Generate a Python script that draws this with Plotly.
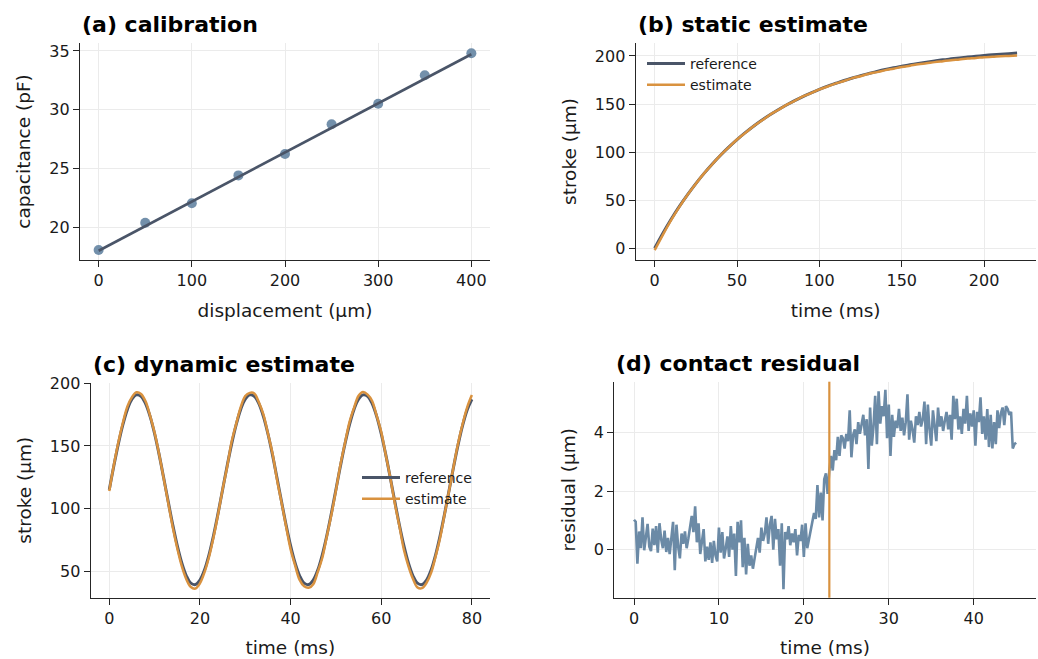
import numpy as np
import plotly.graph_objects as go

# ---------------- data ----------------
# (a) calibration
cal_disp = [0, 50, 100, 150, 200, 250, 300, 350, 400]
cal_cap = [18.04, 20.37, 22.02, 24.40, 26.22, 28.75, 30.51, 32.93, 34.80]
fit_disp = [0, 400]
fit_cap = [17.98, 34.72]

# (b) static estimate (every 5 ms)
static_t = list(range(0, 225, 5))
static_ref = [0.0, 15.6, 30.1, 43.5, 55.8, 67.3, 77.9, 87.7, 96.8, 105.2,
              113.0, 120.2, 126.9, 133.1, 138.8, 144.1, 149.0, 153.6, 157.8, 161.6,
              165.2, 168.6, 171.6, 174.5, 177.1, 179.6, 181.8, 183.9, 185.9, 187.7,
              189.3, 190.9, 192.3, 193.6, 194.8, 196.0, 197.0, 198.0, 198.9, 199.7,
              200.5, 201.2, 201.8, 202.4, 203.0]
static_est = [-2.0, 14.0, 29.2, 43.0, 55.6, 67.0, 77.9, 87.4, 96.9, 105.0,
              113.1, 120.0, 127.0, 132.8, 138.9, 143.8, 149.1, 153.3, 157.9, 161.3,
              165.3, 168.2, 171.5, 174.0, 177.0, 179.0, 181.5, 183.2, 185.3, 186.8,
              188.6, 189.9, 191.3, 192.4, 193.6, 194.6, 195.6, 196.4, 197.3, 197.9,
              198.8, 199.2, 199.7, 200.0, 200.4]

# (c) dynamic estimate (every 1 ms)
dyn_t = list(range(0, 81))
dyn_ref = [115.0, 133.9, 151.6, 167.0, 179.2, 187.3, 190.8, 189.7, 183.8, 173.6,
           159.7, 143.0, 124.5, 105.5, 87.0, 70.3, 56.4, 46.2, 40.3, 39.2,
           42.7, 50.8, 63.0, 78.4, 96.1,
           115.0, 133.9, 151.6, 167.0, 179.2, 187.3, 190.8, 189.7, 183.8, 173.6,
           159.7, 143.0, 124.5, 105.5, 87.0, 70.3, 56.4, 46.2, 40.3, 39.2,
           42.7, 50.8, 63.0, 78.4, 96.1,
           115.0, 133.9, 151.6, 167.0, 179.2, 187.3, 190.8, 189.7, 183.8, 173.6,
           159.7, 143.0, 124.5, 105.5, 87.0, 70.3, 56.4, 46.2, 40.3, 39.2,
           42.7, 50.8, 63.0, 78.4, 96.1,
           115.0, 133.9, 151.6, 167.0, 179.2, 187.3]
dyn_est = [114.0, 134.5, 153.0, 168.5, 181.5, 189.0, 192.8, 191.5, 185.6, 174.2,
           160.5, 143.4, 124.1, 104.6, 85.0, 68.2, 53.9, 43.5, 37.2, 36.0,
           40.1, 48.9, 61.2, 77.0, 95.4,
           115.2, 133.1, 153.5, 167.6, 181.0, 189.8, 192.4, 191.9, 184.8, 175.1,
           160.0, 144.1, 123.2, 104.9, 85.8, 67.5, 54.5, 42.9, 37.8, 36.6,
           39.5, 49.4, 60.6, 77.8, 94.9,
           114.3, 134.9, 152.2, 169.0, 180.4, 190.1, 193.1, 191.0, 185.9, 174.0,
           161.2, 142.8, 124.6, 103.9, 86.1, 67.0, 54.0, 43.8, 36.9, 36.3,
           40.6, 48.5, 61.7, 76.6, 95.8,
           114.8, 134.2, 152.8, 168.1, 181.2, 190.6]

# (d) contact residual (every 0.2 ms, 0..45 ms)
res_t = np.round(np.arange(0, 45.0001, 0.2), 1)
res_val = [
    1.02, 0.95, -0.48, 0.62, 0.05, 1.10, -0.02, 0.45, 0.88, 0.10,
    -0.05, 0.72, 0.15, 0.80, -0.10, 0.90, 0.35, 0.05, 0.65, -0.08,
    0.40, -0.15, 0.30, 0.95, -0.70, 0.85, 0.10, -0.30, 0.55, 0.20,
    0.62, 0.05, 0.38, 0.80, 1.15, 0.60, 1.48, 0.25, 0.90, -0.15,
    0.35, 0.70, -0.40, 0.10, -0.35, 0.25, -0.45, 0.30, -0.20, -0.40,
    0.75, -0.10, 0.60, -0.30, 0.05, 0.45, -0.25, 0.80, 0.00, 0.55,
    -0.90, 0.95, 0.25, 1.00, -0.60, 0.40, -0.85, 0.20, -0.55, -0.20,
    -0.65, -0.30, 0.05, 0.40, -0.10, 0.75, 0.30, 0.55, 1.10, 0.20,
    0.85, 1.15, 0.00, 1.05, 0.35, 0.70, -0.55, 0.90, -1.35, 0.60,
    0.35, 0.80, 0.15, 0.55, 0.25, 0.70, -0.20, 0.50, 0.30, 0.85,
    -0.25, 0.90, 0.05, 0.35, 0.75, 0.95, 1.25, 1.05, 2.20, 1.10,
    1.95, 1.00, 2.40, 2.60, 1.90, 2.70, 3.20, 2.70, 3.40, 3.05,
    3.85, 3.20, 3.90, 3.80, 3.45, 3.95, 3.70, 4.75, 3.15, 3.90,
    4.10, 3.60, 4.35, 3.95, 4.30, 4.60, 3.90, 4.45, 2.75, 4.85,
    3.55, 4.20, 5.25, 3.60, 5.40, 4.30, 4.90, 4.55, 5.45, 3.80,
    4.95, 3.20, 4.60, 3.85, 4.40, 4.15, 4.80, 4.05, 4.50, 3.90,
    4.35, 5.30, 3.75, 4.40, 4.10, 3.65, 4.55, 4.25, 4.70, 4.20,
    4.45, 5.05, 3.60, 4.95, 4.10, 3.55, 4.75, 4.30, 3.70, 4.85,
    4.20, 4.55, 4.05, 4.40, 4.70, 4.10, 4.60, 3.75, 5.25, 4.45,
    5.15, 4.10, 4.55, 3.95, 4.80, 4.30, 5.25, 4.05, 4.65, 4.20,
    4.75, 3.55, 4.70, 4.35, 5.20, 3.95, 4.55, 3.75, 4.80, 3.50,
    4.60, 3.45, 4.35, 3.60, 4.75, 4.15, 4.65, 4.85, 4.25, 4.90,
    4.80, 4.60, 4.70, 3.45, 3.60, 3.65]
contact_t = 23.0

# ---------------- styling ----------------
W, H = 1038, 659
C_REF = "#4a5568"
C_EST = "#d9923f"
C_RES = "#6b8aa6"
FONT = "DejaVu Sans"
TXT = "#1a1a1a"


def px(x):
    return x / W


def py(y):
    return 1 - y / H


fig = go.Figure()

# (a)
fig.add_trace(go.Scatter(x=cal_disp, y=cal_cap, mode="markers",
                         marker=dict(size=10, color=C_RES, opacity=0.95, line=dict(width=0)),
                         xaxis="x", yaxis="y", showlegend=False))
fig.add_trace(go.Scatter(x=fit_disp, y=fit_cap, mode="lines",
                         line=dict(color=C_REF, width=2.6),
                         xaxis="x", yaxis="y", showlegend=False))
# (b)
fig.add_trace(go.Scatter(x=static_t, y=static_ref, mode="lines", name="reference",
                         line=dict(color=C_REF, width=3, shape="spline"), xaxis="x2", yaxis="y2",
                         legend="legend"))
fig.add_trace(go.Scatter(x=static_t, y=static_est, mode="lines", name="estimate",
                         line=dict(color=C_EST, width=2.5, shape="spline"), xaxis="x2", yaxis="y2",
                         legend="legend"))
# (c)
fig.add_trace(go.Scatter(x=dyn_t, y=dyn_ref, mode="lines", name="reference",
                         line=dict(color=C_REF, width=3, shape="spline"), xaxis="x3", yaxis="y3",
                         legend="legend2"))
fig.add_trace(go.Scatter(x=dyn_t, y=dyn_est, mode="lines", name="estimate",
                         line=dict(color=C_EST, width=2.5, shape="spline"), xaxis="x3", yaxis="y3",
                         legend="legend2"))
# (d)
fig.add_trace(go.Scatter(x=res_t, y=res_val, mode="lines",
                         line=dict(color=C_RES, width=2.6), xaxis="x4", yaxis="y4",
                         showlegend=False))

axis_common = dict(showline=True, linecolor="#262626", linewidth=1.3,
                   ticks="outside", ticklen=6, tickwidth=1.3, tickcolor="#262626",
                   showgrid=True, gridcolor="#ebebeb", gridwidth=1, zeroline=False,
                   automargin=False,
                   tickfont=dict(family=FONT, size=16, color=TXT),
                   title_font=dict(family=FONT, size=18.5, color=TXT), mirror=False)

# domains (pixels)
A = dict(l=80, r=490, t=43, b=260)
B = dict(l=635.7, r=1035.7, t=43, b=260)
Cc = dict(l=90.7, r=490, t=382.7, b=597.7)
D = dict(l=614.3, r=1035.7, t=381.7, b=597.7)


def dom(p):
    return [px(p["l"]), px(p["r"])], [py(p["b"]), py(p["t"])]


ax_d, ay_d = dom(A)
bx_d, by_d = dom(B)
cx_d, cy_d = dom(Cc)
dx_d, dy_d = dom(D)

XS, YS = 14, 13

fig.update_layout(
    width=W, height=H,
    margin=dict(l=0, r=0, t=0, b=0),
    paper_bgcolor="white", plot_bgcolor="white",
    font=dict(family=FONT, color=TXT),
    xaxis=dict(axis_common, domain=ax_d, anchor="y", range=[-20, 420],
               tickvals=[0, 100, 200, 300, 400], title=dict(text="displacement (µm)", standoff=XS)),
    yaxis=dict(axis_common, domain=ay_d, anchor="x", range=[17.19, 35.68],
               tickvals=[20, 25, 30, 35], title=dict(text="capacitance (pF)", standoff=YS)),
    xaxis2=dict(axis_common, domain=bx_d, anchor="y2", range=[-11.5, 231.3],
                tickvals=[0, 50, 100, 150, 200], title=dict(text="time (ms)", standoff=XS)),
    yaxis2=dict(axis_common, domain=by_d, anchor="x2", range=[-12.2, 213.5],
                tickvals=[0, 50, 100, 150, 200], title=dict(text="stroke (µm)", standoff=YS)),
    xaxis3=dict(axis_common, domain=cx_d, anchor="y3", range=[-4.1, 84],
                tickvals=[0, 20, 40, 60, 80], title=dict(text="time (ms)", standoff=XS)),
    yaxis3=dict(axis_common, domain=cy_d, anchor="x3", range=[28.7, 200.5],
                tickvals=[50, 100, 150, 200], title=dict(text="stroke (µm)", standoff=YS)),
    xaxis4=dict(axis_common, domain=dx_d, anchor="y4", range=[-2.32, 47.3],
                tickvals=[0, 10, 20, 30, 40], title=dict(text="time (ms)", standoff=XS)),
    yaxis4=dict(axis_common, domain=dy_d, anchor="x4", range=[-1.64, 5.73],
                tickvals=[0, 2, 4], title=dict(text="residual (µm)", standoff=YS)),
    legend=dict(x=px(642), y=py(48), xanchor="left", yanchor="top",
                bgcolor="rgba(0,0,0,0)", font=dict(family=FONT, size=14, color=TXT),
                itemwidth=38),
    legend2=dict(x=px(357), y=py(462), xanchor="left", yanchor="top",
                 bgcolor="rgba(0,0,0,0)", font=dict(family=FONT, size=14, color=TXT),
                 itemwidth=38),
    shapes=[dict(type="line", xref="x4", yref="y4 domain", x0=contact_t, x1=contact_t,
                 y0=0, y1=1, line=dict(color=C_EST, width=2.2))],
)

titles = [("(a) calibration", A), ("(b) static estimate", B),
          ("(c) dynamic estimate", Cc), ("(d) contact residual", D)]
for text, p in titles:
    fig.add_annotation(text="<b>%s</b>" % text, xref="paper", yref="paper",
                       x=px(p["l"]), y=py(p["t"] - 4), xanchor="left", yanchor="bottom",
                       showarrow=False, font=dict(family=FONT, size=22, color="#000000"))

fig.write_html("out.html", config={"displayModeBar": False},
               post_script="document.body.style.margin='0';document.body.style.padding='0';")
